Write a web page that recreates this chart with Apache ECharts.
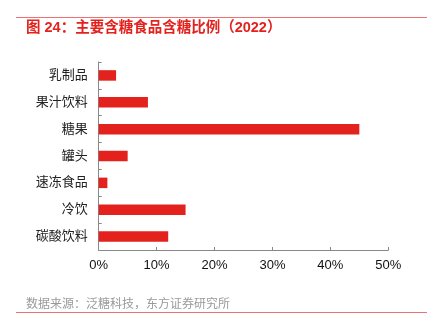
<!DOCTYPE html>
<html>
<head>
<meta charset="utf-8">
<style>
  html, body { margin: 0; padding: 0; background: #ffffff; }
  #chart { width: 427px; height: 336px; }
</style>
<script src="https://cdn.jsdelivr.net/npm/echarts@6/dist/echarts.min.js"></script>
</head>
<body>
<div id="chart"></div>
<script>
// Sugar share by food category, 2022 (%), listed top to bottom
const categories = ['乳制品', '果汁饮料', '糖果', '罐头', '速冻食品', '冷饮', '碳酸饮料'];
const sugarShare = [3.0, 8.5, 45.0, 5.0, 1.5, 15.0, 12.0];
const axisTicks = [0, 10, 20, 30, 40, 50];

const titleText = '图 24：主要含糖食品含糖比例（2022）';
const sourceText = '数据来源：泛糖科技，东方证券研究所';

const FONT = '"Liberation Sans", "Noto Sans CJK SC", sans-serif';
const RED = '#e3221e';

const chart = echarts.init(document.getElementById('chart'), null, { renderer: 'canvas' });

chart.setOption({
  animation: false,
  backgroundColor: '#ffffff',
  grid: { left: 98.7, right: 38.7, top: 62, bottom: 86, containLabel: false },
  xAxis: {
    type: 'value',
    min: axisTicks[0],
    max: axisTicks[axisTicks.length - 1],
    interval: axisTicks[1] - axisTicks[0],
    axisLine: { show: true, lineStyle: { color: '#888888', width: 1 } },
    axisTick: { show: true, inside: true, length: 3, lineStyle: { color: '#888888' } },
    splitLine: { show: false },
    axisLabel: {
      formatter: v => v + '%',
      color: '#111111',
      fontSize: 13,
      fontFamily: FONT,
      margin: 9
    }
  },
  yAxis: {
    type: 'category',
    data: categories,
    inverse: true,
    axisLine: { show: true, lineStyle: { color: '#888888', width: 1 } },
    axisTick: { show: true, inside: true, length: 3, lineStyle: { color: '#888888' } },
    axisLabel: {
      color: '#222222',
      fontSize: 13,
      fontFamily: FONT,
      margin: 11
    }
  },
  series: [{
    type: 'bar',
    data: sugarShare,
    barWidth: 10.5,
    itemStyle: { color: RED },
    silent: true
  }],
  graphic: [
    {
      type: 'line',
      shape: { x1: 16, y1: 17.5, x2: 427, y2: 17.5 },
      style: { stroke: '#ee7070', lineWidth: 1 }
    },
    {
      type: 'text',
      left: 26,
      top: 21,
      style: {
        text: titleText,
        fill: RED,
        font: 'bold 14.5px ' + FONT
      }
    },
    {
      type: 'text',
      left: 26,
      top: 299,
      style: {
        text: sourceText,
        fill: '#9a9a9a',
        font: '12px ' + FONT
      }
    },
    {
      type: 'line',
      shape: { x1: 16, y1: 312.5, x2: 427, y2: 312.5 },
      style: { stroke: '#ee7070', lineWidth: 1 }
    }
  ]
});
</script>
</body>
</html>
